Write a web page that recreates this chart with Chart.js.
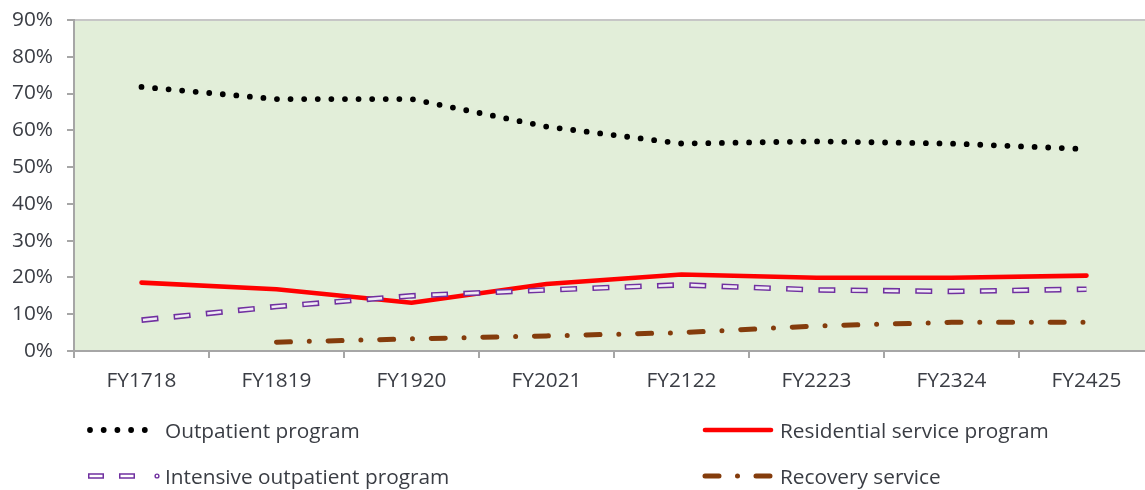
<!DOCTYPE html>
<html>
<head>
<meta charset="utf-8">
<script src="https://cdn.jsdelivr.net/npm/chart.js@4/dist/chart.umd.min.js"></script>
<style>
  html, body { margin: 0; padding: 0; background: #ffffff; overflow: hidden; }
  #wrap { position: relative; width: 1160px; height: 490px; }
  #chart { position: absolute; left: 0; top: 0; }
  .leg { position: absolute; display: flex; align-items: center; font-family: "Open Sans", sans-serif; font-size: 20.8px; color: #3a3d44; white-space: nowrap; }
  .leg canvas { display: block; }
</style>
</head>
<body>
<div id="wrap">
  <canvas id="chart" width="1160" height="490"></canvas>
  <div class="leg" style="left:84px; top:415px;"><canvas id="lg0" width="78" height="30"></canvas><span style="margin-left:3px">Outpatient program</span></div>
  <div class="leg" style="left:699px; top:415px;"><canvas id="lg1" width="78" height="30"></canvas><span style="margin-left:3px">Residential service program</span></div>
  <div class="leg" style="left:84px; top:461px;"><canvas id="lg2" width="78" height="30"></canvas><span style="margin-left:3px">Intensive outpatient program</span></div>
  <div class="leg" style="left:699px; top:461px;"><canvas id="lg3" width="78" height="30"></canvas><span style="margin-left:3px">Recovery service</span></div>
</div>
<script>
// ---- data ----
const categories = ['FY1718', 'FY1819', 'FY1920', 'FY2021', 'FY2122', 'FY2223', 'FY2324', 'FY2425'];
const outpatient = [71.8, 68.5, 68.5, 61.0, 56.4, 57.0, 56.4, 54.9];
const residential = [18.6, 16.8, 13.1, 18.2, 20.8, 19.9, 19.9, 20.5];
const intensive = [8.4, 12.1, 15.0, 16.6, 18.0, 16.6, 16.2, 16.8];
const recovery = [null, 2.4, 3.3, 4.1, 5.0, 6.8, 7.8, 7.8];
const seriesNames = ['Outpatient program', 'Residential service program', 'Intensive outpatient program', 'Recovery service'];
const yTickValues = [0, 10, 20, 30, 40, 50, 60, 70, 80, 90];

const PLOT_BG = '#e2eed9';
const AXIS = '#a6a6a6';
const TXT = '#3a3d44';
const RED = '#ff0000';
const PURPLE = '#7030a0';
const BROWN = '#843c0c';
const FONT = { family: 'Open Sans', size: 20.8 };

const bgPlugin = {
  id: 'plotbg',
  beforeDraw(chart) {
    const a = chart.chartArea, ctx = chart.ctx;
    ctx.save();
    ctx.fillStyle = PLOT_BG;
    ctx.fillRect(a.left, a.top, a.right - a.left, a.bottom - a.top);
    ctx.strokeStyle = '#c6c6c6';
    ctx.lineWidth = 2;
    ctx.beginPath();
    ctx.moveTo(a.left, a.top);
    ctx.lineTo(a.right, a.top);
    ctx.stroke();
    ctx.restore();
  }
};

new Chart(document.getElementById('chart'), {
  type: 'line',
  data: {
    labels: categories,
    datasets: [
      { label: seriesNames[0], data: outpatient, borderColor: '#000000', borderWidth: 5.8, borderDash: [0, 13.6], borderCapStyle: 'round', pointRadius: 0, tension: 0, order: 1 },
      { label: seriesNames[1], data: residential, borderColor: RED, borderWidth: 4.6, borderCapStyle: 'round', borderJoinStyle: 'round', pointRadius: 0, tension: 0, order: 4 },
      { label: seriesNames[2], data: intensive, borderColor: PURPLE, borderWidth: 5.6, borderDash: [17, 15.3], borderCapStyle: 'butt', pointRadius: 0, tension: 0, order: 3 },
      { label: seriesNames[2] + ' inner', data: intensive, borderColor: '#efeaf4', borderWidth: 2.6, borderDash: [14, 18.3], borderDashOffset: -1.5, borderCapStyle: 'butt', pointRadius: 0, tension: 0, order: 2 },
      { label: seriesNames[3], data: recovery, borderColor: BROWN, borderWidth: 5, borderDash: [14, 18.8, 0, 18.8], borderCapStyle: 'round', pointRadius: 0, tension: 0, order: 5 }
    ]
  },
  options: {
    responsive: false,
    animation: false,
    devicePixelRatio: 1,
    layout: { padding: { left: 0, top: 20, right: 6, bottom: 89 } },
    plugins: { legend: { display: false }, tooltip: { enabled: false } },
    scales: {
      x: {
        type: 'category',
        offset: true,
        grid: { offset: true, drawOnChartArea: false, drawTicks: true, tickLength: 7, color: AXIS, lineWidth: 2 },
        border: { display: true, color: AXIS, width: 2 },
        ticks: { color: TXT, font: FONT, padding: 11, maxRotation: 0, autoSkip: false },
        afterFit(scale) { scale.height = 50; scale.paddingLeft = 0; scale.paddingRight = 0; }
      },
      y: {
        min: 0, max: 90,
        afterBuildTicks(scale) { scale.ticks = yTickValues.map(v => ({ value: v })); },
        grid: { drawOnChartArea: false, drawTicks: true, tickLength: 7, color: AXIS, lineWidth: 2 },
        border: { display: true, color: AXIS, width: 2 },
        ticks: { color: TXT, font: FONT, padding: 14, callback: v => v + '%' },
        afterFit(scale) { scale.width = 74; scale.paddingTop = 0; scale.paddingBottom = 0; }
      }
    }
  },
  plugins: [bgPlugin]
});

// ---- legend samples ----
function sample(id, fn) {
  const c = document.getElementById(id).getContext('2d');
  fn(c);
}
sample('lg0', c => {
  c.strokeStyle = '#000'; c.lineWidth = 5.8; c.lineCap = 'round'; c.setLineDash([0, 13.7]);
  c.beginPath(); c.moveTo(6, 15); c.lineTo(64, 15); c.stroke();
});
sample('lg1', c => {
  c.strokeStyle = RED; c.lineWidth = 4.6; c.lineCap = 'round';
  c.beginPath(); c.moveTo(6, 15); c.lineTo(72, 15); c.stroke();
});
sample('lg2', c => {
  c.lineCap = 'butt';
  c.strokeStyle = PURPLE; c.lineWidth = 5.6; c.setLineDash([16, 15]);
  c.beginPath(); c.moveTo(4, 15); c.lineTo(55, 15); c.stroke();
  c.strokeStyle = '#ffffff'; c.lineWidth = 2.6; c.setLineDash([13, 18]); c.lineDashOffset = -1.5;
  c.beginPath(); c.moveTo(4, 15); c.lineTo(55, 15); c.stroke();
  c.setLineDash([]);
  c.strokeStyle = PURPLE; c.lineWidth = 1.4;
  c.beginPath(); c.arc(73, 15, 1.9, 0, Math.PI * 2); c.stroke();
});
sample('lg3', c => {
  c.strokeStyle = BROWN; c.lineWidth = 5; c.lineCap = 'round'; c.setLineDash([14, 18.5, 0, 18.5]);
  c.beginPath(); c.moveTo(6, 15); c.lineTo(74, 15); c.stroke();
});
</script>
</body>
</html>
